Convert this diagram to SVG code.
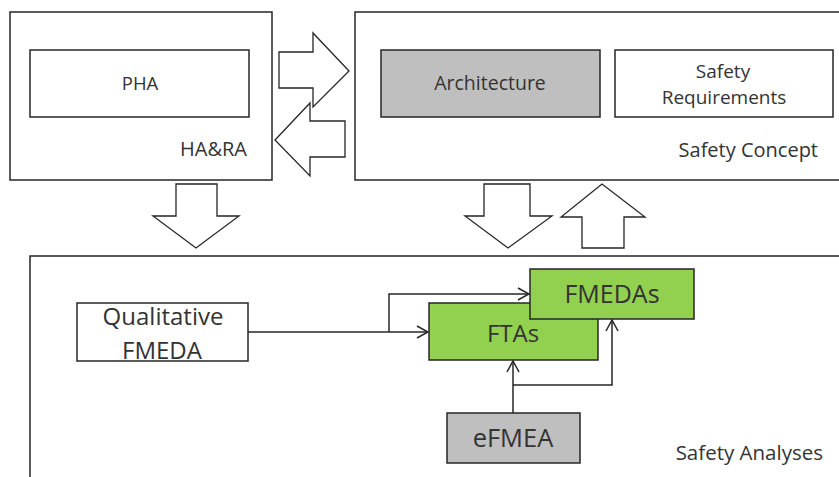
<svg xmlns="http://www.w3.org/2000/svg" width="839" height="477" viewBox="0 0 839 477">
<defs>
<style>
.box{fill:#ffffff;stroke:#262626;stroke-width:1.5}
.gray{fill:#bfbfbf;stroke:#262626;stroke-width:1.5}
.green{fill:#92d050;stroke:#262626;stroke-width:1.5}
.big{fill:#ffffff;stroke:#262626;stroke-width:1.5}
.t{font-family:"Open Sans","Liberation Sans",sans-serif;fill:#333333}
.conn{fill:none;stroke:#262626;stroke-width:1.5}
.block{fill:#ffffff;stroke:#262626;stroke-width:1.3;stroke-linejoin:miter}
</style>
<marker id="chev" viewBox="0 0 14 14" refX="13" refY="7" markerWidth="14" markerHeight="14" markerUnits="userSpaceOnUse" orient="auto">
<path d="M2,1 L13,7 L2,13" fill="none" stroke="#262626" stroke-width="1.5"/>
</marker>
</defs>
<rect width="839" height="477" fill="#ffffff"/>

<g id="hara">
<rect class="big" x="10" y="12" width="262" height="168"/>
<text class="t" x="247" y="156" font-size="20" text-anchor="end">HA&amp;RA</text>
</g>
<g id="pha">
<rect class="box" x="30" y="50" width="219" height="67"/>
<text class="t" x="140" y="90" font-size="18.5" text-anchor="middle">PHA</text>
</g>

<g id="safety-concept">
<rect class="big" x="355" y="12" width="490" height="168"/>
<text class="t" x="818" y="157" font-size="20" text-anchor="end">Safety Concept</text>
</g>
<g id="architecture">
<rect class="gray" x="381" y="50" width="219" height="67"/>
<text class="t" x="490" y="90" font-size="19.5" text-anchor="middle">Architecture</text>
</g>
<g id="safety-requirements">
<rect class="box" x="615" y="50" width="218" height="67"/>
<text class="t" x="723" y="78" font-size="19" text-anchor="middle">Safety</text>
<text class="t" x="724" y="104" font-size="19" text-anchor="middle">Requirements</text>
</g>

<g id="safety-analyses">
<rect class="big" x="30" y="256" width="820" height="240"/>
<text class="t" x="823" y="460" font-size="20.5" text-anchor="end">Safety Analyses</text>
</g>
<g id="qualitative-fmeda">
<rect class="box" x="77" y="303" width="171" height="58"/>
<text class="t" x="163" y="325" font-size="24" text-anchor="middle">Qualitative</text>
<text class="t" x="162" y="359" font-size="24" text-anchor="middle">FMEDA</text>
</g>
<g id="ftas">
<rect class="green" x="429" y="303" width="169" height="57"/>
<text class="t" x="513" y="342" font-size="24" text-anchor="middle">FTAs</text>
</g>
<g id="fmedas">
<rect class="green" x="530" y="269" width="164" height="50"/>
<text class="t" x="612" y="303" font-size="25" text-anchor="middle">FMEDAs</text>
</g>
<g id="efmea">
<rect class="gray" x="447" y="413" width="133" height="50"/>
<text class="t" x="513" y="447" font-size="25.5" text-anchor="middle">eFMEA</text>
</g>

<g id="connectors">
<path class="block" d="M279,52 L313,52 L313,33 L349,71 L313,107 L313,88 L279,88 Z"/>
<path class="block" d="M345,121 L310,121 L310,103 L275,140 L310,176 L310,157 L345,157 Z"/>
<path class="block" d="M176,184 L217,184 L217,216 L239,216 L196,248 L153,216 L176,216 Z"/>
<path class="block" d="M484,184 L530,184 L530,216 L552,216 L508,248 L465,216 L484,216 Z"/>
<path class="block" d="M582,248 L624,248 L624,217 L645,217 L602,184 L561,217 L582,217 Z"/>
<path class="conn" d="M248,332 L428,332" marker-end="url(#chev)"/>
<path class="conn" d="M389,332 L389,294 L529,294" marker-end="url(#chev)"/>
<path class="conn" d="M513,413 L513,361" marker-end="url(#chev)"/>
<path class="conn" d="M513,385 L612,385 L612,320" marker-end="url(#chev)"/>
</g>
</svg>
